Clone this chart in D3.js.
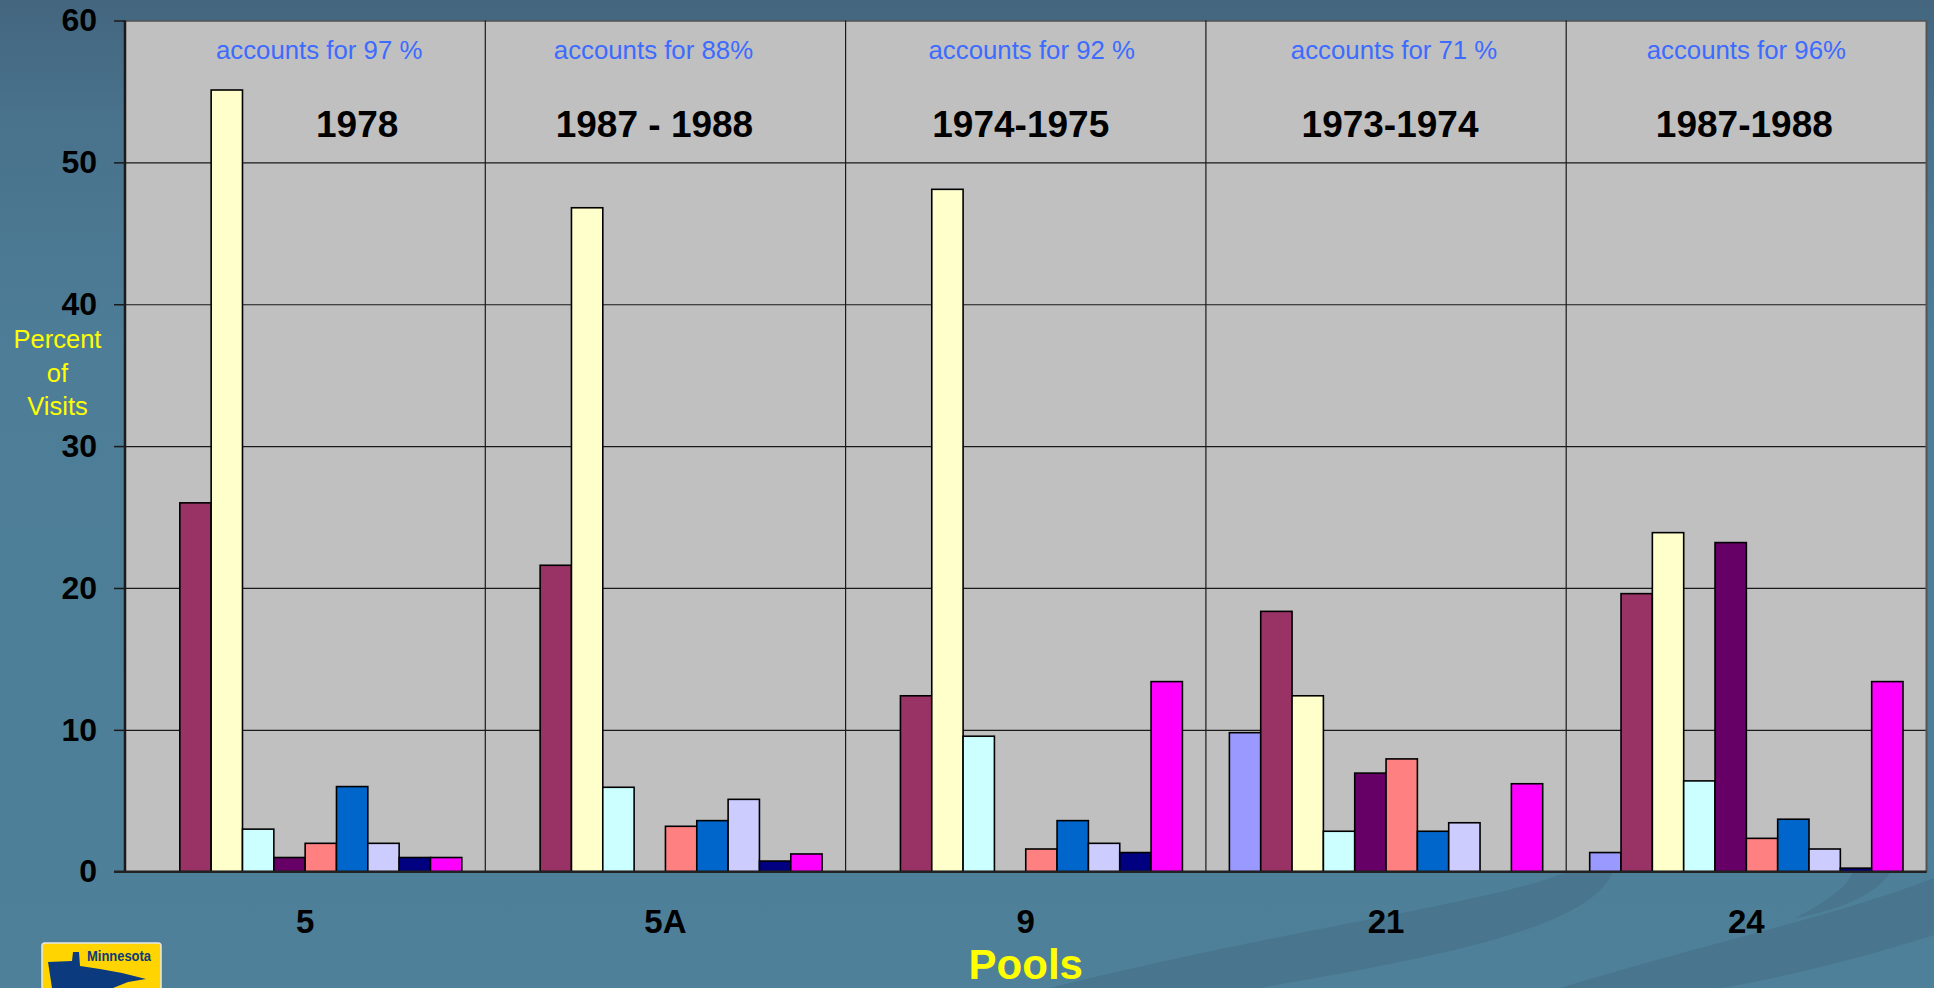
<!DOCTYPE html>
<html>
<head>
<meta charset="utf-8">
<script src="https://cdn.jsdelivr.net/npm/d3@7/dist/d3.min.js"></script>
<style>
  html, body { margin: 0; padding: 0; background: #4e7f99; }
  svg { display: block; }
</style>
</head>
<body>
<svg id="chart" width="1934" height="988"></svg>
<script>
// ---------------- DATA ----------------
const categories = ["5", "5A", "9", "21", "24"];
const seriesIdx = [0, 1, 2, 3, 4, 5, 6, 7, 8, 9];
const seriesColors = ["#9999FF", "#993366", "#FFFFCC", "#CCFFFF", "#660066",
                      "#FF8080", "#0066CC", "#CCCCFF", "#000080", "#FF00FF"];
// values per pool, one per series (null = no bar)
const pool5  = [null, 26.0, 55.1, 3.0, 1.0, 2.0, 6.0, 2.0, 1.0, 1.0];
const pool5A = [null, 21.6, 46.8, 5.95, null, 3.2, 3.6, 5.1, 0.75, 1.25];
const pool9  = [null, 12.4, 48.1, 9.55, null, 1.6, 3.6, 2.0, 1.35, 13.4];
const pool21 = [9.8, 18.35, 12.4, 2.85, 6.95, 7.95, 2.85, 3.45, null, 6.2];
const pool24 = [1.35, 19.6, 23.9, 6.4, 23.2, 2.35, 3.7, 1.6, 0.25, 13.4];
const yTicks = [0, 10, 20, 30, 40, 50, 60];
const accountLabels = ["accounts for 97 %", "accounts for 88%", "accounts for 92 %",
                       "accounts for 71 %", "accounts for 96%"];
const yearLabels = ["1978", "1987 - 1988", "1974-1975", "1973-1974", "1987-1988"];
const yAxisTitle = ["Percent", "of", "Visits"];
const xAxisTitle = "Pools";

// layout offsets of the free-floating text boxes (relative to category centre)
const accountDx = [14, -12, 6, 8, 0];
const yearDx = [52, -11, -5, 4, -2];

const values = [pool5, pool5A, pool9, pool21, pool24];

// ---------------- LAYOUT ----------------
const W = 1934, H = 988;
const pL = 125, pR = 1926.5, pT = 20.5, pB = 871.7;
const svg = d3.select("#chart");

const defs = svg.append("defs");
const grad = defs.append("linearGradient").attr("id", "bg").attr("x1", 0).attr("y1", 0).attr("x2", 0).attr("y2", 1);
grad.append("stop").attr("offset", "0").attr("stop-color", "#44667f");
grad.append("stop").attr("offset", "0.12").attr("stop-color", "#49728c");
grad.append("stop").attr("offset", "0.35").attr("stop-color", "#4d7d97");
grad.append("stop").attr("offset", "1").attr("stop-color", "#4e809a");

svg.append("rect").attr("width", W).attr("height", H).attr("fill", "url(#bg)");

// decorative swooshes (background)
const sw = svg.append("g").attr("fill", "#49758f");
sw.append("path").attr("d", "M1050,988 C1280,930 1480,905 1565,873 L1612,873 C1590,930 1420,960 1260,988 Z");
sw.append("path").attr("d", "M1560,988 C1700,945 1840,915 1934,878 L1934,935 C1850,962 1760,982 1720,988 Z");
sw.append("path").attr("d", "M1795,918 C1830,900 1848,885 1852,873 L1890,873 C1875,895 1840,910 1795,918 Z");

// ---------------- SCALES ----------------
const x0 = d3.scaleBand().domain(categories).range([pL, pR]).padding(0);
const x1 = d3.scaleBand().domain(seriesIdx).range([0, x0.bandwidth()]).paddingInner(0).paddingOuter(0.75);
const y = d3.scaleLinear().domain([0, 60]).range([pB, pT]);

// plot area
svg.append("rect").attr("x", pL).attr("y", pT).attr("width", pR - pL).attr("height", pB - pT)
  .attr("fill", "#C0C0C0");

// horizontal gridlines
svg.append("g").attr("transform", `translate(${pL},0)`)
  .call(d3.axisLeft(y).tickValues(yTicks).tickSize(-(pR - pL)).tickFormat(""))
  .call(g => g.select(".domain").remove())
  .call(g => g.selectAll("line").attr("stroke", "#1a1a1a").attr("stroke-width", 1.2));

// vertical category separators
svg.append("g").selectAll("line").data(categories.slice(1)).join("line")
  .attr("x1", d => x0(d)).attr("x2", d => x0(d))
  .attr("y1", pT).attr("y2", pB)
  .attr("stroke", "#1a1a1a").attr("stroke-width", 1.2);

// right border
svg.append("line").attr("x1", pR).attr("x2", pR).attr("y1", pT).attr("y2", pB)
  .attr("stroke", "#555").attr("stroke-width", 2);

// bars
const groups = svg.append("g").selectAll("g").data(categories).join("g")
  .attr("transform", d => `translate(${x0(d)},0)`);
groups.selectAll("rect")
  .data((d, i) => values[i].map((v, s) => ({ v, s })).filter(o => o.v !== null))
  .join("rect")
  .attr("x", o => x1(o.s))
  .attr("width", x1.bandwidth())
  .attr("y", o => y(o.v))
  .attr("height", o => y(0) - y(o.v))
  .attr("fill", o => seriesColors[o.s])
  .attr("stroke", "#000")
  .attr("stroke-width", 1.6);

// y axis
const yAxis = svg.append("g").attr("transform", `translate(${pL},0)`)
  .call(d3.axisLeft(y).tickValues(yTicks).tickSize(11).tickPadding(17).tickFormat(d3.format("d")));
yAxis.select(".domain").attr("stroke", "#1a1a1a").attr("stroke-width", 2.5).attr("d", `M0,${pT}V${pB}`);
yAxis.selectAll(".tick line").attr("stroke", "#1a1a1a").attr("stroke-width", 1.5);
yAxis.selectAll(".tick text").attr("fill", "#000")
  .style("font-family", "'Liberation Sans', Arial, sans-serif")
  .style("font-weight", "bold").style("font-size", "32px");

// x axis
const xAxis = svg.append("g").attr("transform", `translate(0,${pB})`)
  .call(d3.axisBottom(x0).tickSize(0).tickPadding(38));
xAxis.select(".domain").attr("stroke", "#222").attr("stroke-width", 2.5).attr("d", `M${pL - 11},0H${pR}`);
xAxis.selectAll(".tick text").attr("fill", "#000")
  .style("font-family", "'Liberation Sans', Arial, sans-serif")
  .style("font-weight", "bold").style("font-size", "33px");

// annotations
const cx = (c) => x0(c) + x0.bandwidth() / 2;
svg.append("g").selectAll("text").data(categories).join("text")
  .attr("x", (d, i) => cx(d) + accountDx[i]).attr("y", 58.5)
  .attr("text-anchor", "middle")
  .style("font-family", "'Liberation Sans', Arial, sans-serif")
  .style("font-size", "25.8px").attr("fill", "#3D6BFF")
  .text((d, i) => accountLabels[i]);

svg.append("g").selectAll("text").data(categories).join("text")
  .attr("x", (d, i) => cx(d) + yearDx[i]).attr("y", 136.7)
  .attr("text-anchor", "middle")
  .style("font-family", "'Liberation Sans', Arial, sans-serif")
  .style("font-weight", "bold").style("font-size", "37px").attr("fill", "#000")
  .text((d, i) => yearLabels[i]);

// axis titles
svg.append("g").selectAll("text").data(yAxisTitle).join("text")
  .attr("x", 57.5).attr("y", (d, i) => 348.3 + i * 33.4)
  .attr("text-anchor", "middle")
  .style("font-family", "'Liberation Sans', Arial, sans-serif")
  .style("font-size", "25.5px").attr("fill", "#FFFF00")
  .text(d => d);

svg.append("text").attr("x", (pL + pR) / 2).attr("y", 979)
  .attr("text-anchor", "middle")
  .style("font-family", "'Liberation Sans', Arial, sans-serif")
  .style("font-weight", "bold").style("font-size", "42px").attr("fill", "#FFFF00")
  .text(xAxisTitle);

// logo (Minnesota sign)
const logo = svg.append("g");
logo.append("rect").attr("x", 42).attr("y", 943).attr("width", 119).attr("height", 60).attr("rx", 3)
  .attr("fill", "#FFD400").attr("stroke", "#e8e8e8").attr("stroke-width", 1.5);
logo.append("path").attr("fill", "#0B3A7E")
  .attr("d", "M48,962 L72,961 L73,952 L79,952 L80,966 L100,969 L122,973 L146,979 L128,982 L113,988 L52,988 L50,975 Z");
logo.append("text").attr("x", 119).attr("y", 961).attr("text-anchor", "middle")
  .style("font-family", "'Liberation Sans Narrow', 'Liberation Sans', Arial, sans-serif")
  .style("font-weight", "bold").style("font-size", "14px").attr("fill", "#0B3A7E")
  .attr("textLength", 64).attr("lengthAdjust", "spacingAndGlyphs")
  .text("Minnesota");
</script>
</body>
</html>
